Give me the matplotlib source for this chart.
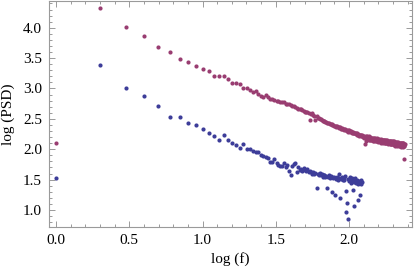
import numpy as np
import matplotlib
matplotlib.use("Agg")
import matplotlib.pyplot as plt
from matplotlib.ticker import MultipleLocator

# frequency bin indices (f) for each series
freq_red = np.arange(1, 241)
freq_blue = np.arange(1, 123)

psd_red = [
    2.11, 4.32, 4.02, 3.87, 3.68, 3.60, 3.49, 3.43, 3.37, 3.32,
    3.28, 3.21, 3.21, 3.20, 3.15, 3.09, 3.09, 3.07, 3.01, 3.01,
    2.98, 2.95, 2.96, 2.91, 2.88, 2.86, 2.89, 2.86, 2.83, 2.83,
    2.81, 2.80, 2.79, 2.78, 2.77, 2.78, 2.75, 2.74, 2.74, 2.72,
    2.71, 2.71, 2.69, 2.68, 2.67, 2.66, 2.66, 2.64, 2.63, 2.62,
    2.62, 2.61, 2.60, 2.48, 2.58, 2.59, 2.57, 2.55, 2.48, 2.54,
    2.52, 2.51, 2.50, 2.50, 2.48, 2.47, 2.47, 2.46, 2.45, 2.45,
    2.44, 2.43, 2.43, 2.42, 2.41, 2.42, 2.40, 2.40, 2.39, 2.38,
    2.39, 2.37, 2.38, 2.36, 2.37, 2.35, 2.36, 2.34, 2.35, 2.34,
    2.33, 2.34, 2.32, 2.33, 2.31, 2.32, 2.30, 2.31, 2.29, 2.31,
    2.30, 2.28, 2.30, 2.27, 2.29, 2.27, 2.28, 2.26, 2.27, 2.27,
    2.25, 2.26, 2.24, 2.27, 2.23, 2.25, 2.22, 2.24, 2.23, 2.24,
    2.22, 2.21, 2.23, 2.20, 2.22, 2.19, 2.21, 2.20, 2.09, 2.14,
    2.21, 2.18, 2.22, 2.17, 2.20, 2.16, 2.21, 2.18, 2.15, 2.20,
    2.16, 2.19, 2.15, 2.19, 2.14, 2.18, 2.15, 2.19, 2.13, 2.17,
    2.18, 2.14, 2.17, 2.13, 2.18, 2.15, 2.12, 2.17, 2.15, 2.13,
    2.17, 2.12, 2.16, 2.13, 2.17, 2.11, 2.16, 2.12, 2.15, 2.16,
    2.11, 2.15, 2.12, 2.16, 2.10, 2.15, 2.11, 2.14, 2.15, 2.10,
    2.14, 2.11, 2.15, 2.09, 2.14, 2.12, 2.10, 2.14, 2.09, 2.13,
    2.13, 2.09, 2.14, 2.10, 2.08, 2.13, 2.11, 2.09, 2.13, 2.08,
    2.12, 2.09, 2.13, 2.07, 2.12, 2.10, 2.06, 2.12, 2.10, 2.08,
    2.12, 2.08, 2.11, 2.06, 2.12, 2.08, 2.11, 2.05, 2.11, 2.09,
    2.07, 2.11, 2.08, 2.05, 2.11, 2.07, 2.10, 2.04, 2.10, 2.08,
    2.06, 2.10, 2.08, 2.04, 2.10, 2.06, 1.84, 2.09, 2.05, 2.08,
]

psd_blue = [
    1.52, 3.39, 3.00, 2.87, 2.71, 2.53, 2.53, 2.43, 2.40, 2.33,
    2.27, 2.22, 2.16, 2.23, 2.16, 2.10, 2.07, 2.02, 2.08, 2.00,
    2.01, 1.97, 1.95, 1.95, 1.91, 1.89, 1.87, 1.85, 1.79, 1.79,
    1.84, 1.77, 1.74, 1.72, 1.73, 1.78, 1.70, 1.74, 1.64, 1.57,
    1.72, 1.76, 1.77, 1.62, 1.70, 1.66, 1.68, 1.65, 1.69, 1.66,
    1.64, 1.67, 1.62, 1.65, 1.63, 1.60, 1.62, 1.60, 1.61, 1.37,
    1.60, 1.58, 1.61, 1.57, 1.59, 1.55, 1.58, 1.57, 1.54, 1.56,
    1.36, 1.55, 1.57, 1.53, 1.56, 1.30, 1.54, 1.52, 1.55, 1.25,
    1.53, 1.51, 1.54, 1.50, 1.60, 1.52, 1.19, 1.51, 1.52, 1.55,
    1.49, 1.53, 1.50, 1.56, 0.97, 1.32, 1.12, 0.85, 1.51, 1.47,
    1.54, 1.49, 1.45, 1.52, 1.48, 1.33, 1.50, 1.07, 1.46, 1.53,
    1.48, 1.44, 1.50, 1.46, 1.42, 1.16, 1.47, 1.25, 1.45, 1.49,
    1.43, 1.46,
]

x_ticks = [0.0, 0.5, 1.0, 1.5, 2.0]
y_ticks = [1.0, 1.5, 2.0, 2.5, 3.0, 3.5, 4.0]

red = (0.6, 0.24, 0.4428)
blue = (0.24, 0.24, 0.6)
frame_col = "#9a9a9a"

plt.rcParams['font.family'] = ['Liberation Serif', 'DejaVu Serif']

fig = plt.figure(figsize=(4.15, 2.74), dpi=100)
ax = fig.add_axes([49 / 415, 47 / 274, 363 / 415, 226 / 274])

ax.scatter(np.log10(freq_red), psd_red, s=9, color=red, linewidths=0, zorder=3)
ax.scatter(np.log10(freq_blue), psd_blue, s=9, color=blue, linewidths=0, zorder=3)

ax.set_xlim(-0.048, 2.43)
ax.set_ylim(0.72, 4.44)

ax.set_xticks(x_ticks)
ax.set_xticklabels([f"{v:.1f}" for v in x_ticks])
ax.set_yticks(y_ticks)
ax.set_yticklabels([f"{v:.1f}" for v in y_ticks])
ax.xaxis.set_minor_locator(MultipleLocator(0.1))
ax.yaxis.set_minor_locator(MultipleLocator(0.1))

for sp in ax.spines.values():
    sp.set_color(frame_col)
    sp.set_linewidth(0.8)

ax.tick_params(which='both', direction='in', top=True, right=True,
               color=frame_col, width=0.7, labelsize=11, labelcolor='black')
ax.tick_params(which='major', length=4.0, pad=5)
ax.tick_params(which='minor', length=2.2)

ax.set_xlabel("log (f)", fontsize=11, labelpad=4)
ax.set_ylabel("log (PSD)", fontsize=11, labelpad=6)

fig.savefig("out.png", dpi=100)
